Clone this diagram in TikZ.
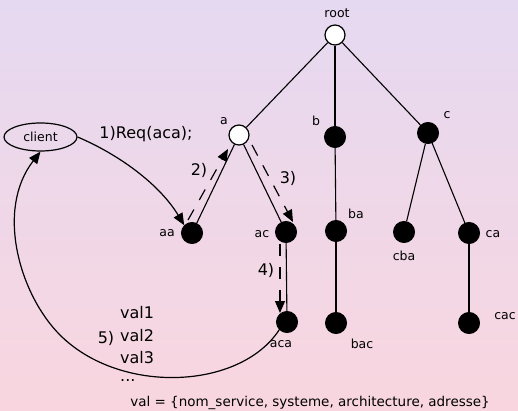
\documentclass[tikz,border=0pt]{standalone}
\usepackage{fontspec}
\setmainfont{DejaVu Sans}
\usetikzlibrary{arrows.meta,shapes.geometric,calc}
\definecolor{bgtop}{HTML}{E5D9F1}
\definecolor{bgbot}{HTML}{F9D6DF}
\tikzset{
  opennode/.style={circle,draw,line width=1.2pt,fill=white,inner sep=0pt,minimum size=20pt},
  fullnode/.style={circle,fill=black,draw,line width=1pt,inner sep=0pt,minimum size=21pt},
  lbl/.style={font=\fontsize{12.5}{14}\selectfont,inner sep=0pt},
  big/.style={font=\fontsize{16}{19}\selectfont,inner sep=0pt},
  edge/.style={line width=1.1pt},
  arr/.style={line width=1.2pt,-{Triangle[length=12pt,width=10pt]}},
  darr/.style={line width=1.2pt,dash pattern=on 12pt off 11pt,-{Triangle[length=12pt,width=10pt]}}
}
\begin{document}
\begin{tikzpicture}[x=1pt,y=-1pt]
\shade[top color=bgtop,bottom color=bgbot] (0,0) rectangle (518,411);
\useasboundingbox (0,0) rectangle (518,411);
% tree nodes
\node[opennode] (root) at (335,35) {};
\node[opennode] (a) at (239,135) {};
\node[fullnode] (b) at (335,137) {};
\node[fullnode] (c) at (428,133) {};
\node[fullnode] (aa) at (192,233) {};
\node[fullnode] (ac) at (286,232) {};
\node[fullnode] (ba) at (336,231) {};
\node[fullnode] (cba) at (404,232) {};
\node[fullnode] (ca) at (469,233) {};
\node[fullnode] (aca) at (287,322) {};
\node[fullnode] (bac) at (336,323) {};
\node[fullnode] (cac) at (469,323) {};
\node[ellipse,draw,line width=1.2pt,minimum width=73pt,minimum height=28pt,inner sep=0pt,lbl] (client) at (40.5,137) {client};
% labels
\node[lbl] (lroot) at (337,13) {root};
\node[lbl] (la) at (224,121) {a};
\node[lbl] (lb) at (316,121) {b};
\node[lbl] (lc) at (447,115) {c};
\node[lbl] (laa) at (167,233) {aa};
\node[lbl] (lac) at (262,234) {ac};
\node[lbl] (lba) at (356,214) {ba};
\node[lbl] (lcba) at (404,256) {cba};
\node[lbl] (lca) at (493,234) {ca};
\node[lbl] (laca) at (281,344) {aca};
\node[lbl] (lbac) at (362,344) {bac};
\node[lbl] (lcac) at (505,316) {cac};
% edges
\draw[edge] (root) -- (a);
\draw[edge] (root) -- (b);
\draw[edge] (root) -- (c);
\draw[edge] (a) -- (aa);
\draw[edge] (a) -- (ac);
\draw[edge] (b) -- (ba);
\draw[edge] (ba) -- (bac);
\draw[edge] (c) -- (cba);
\draw[edge] (c) -- (ca);
\draw[edge] (ca) -- (cac);
\draw[edge] (ac) -- (aca);
% messages
\draw[arr] (client.east) .. controls (120,155) and (160,185) .. (aa.north west);
\node[big] (m1) at (146,134) {1)Req(aca);};
\coordinate (s2) at (188,220);
\coordinate (e2) at (228,149);
\draw[darr] (s2) -- (e2);
\node[big] (m2) at (199,170) {2)};
\coordinate (s3) at (252,145);
\coordinate (e3) at (293,222);
\draw[darr] (s3) -- (e3);
\node[big] (m3) at (288,178) {3)};
\coordinate (s4) at (280,244);
\coordinate (e4) at (280,313);
\draw[darr] (s4) -- (e4);
\node[big] (m4) at (266,270) {4)};
\coordinate (k5) at (60,335);
\draw[arr] (aca.south west) .. controls (240,390) and (120,395) .. (k5) .. controls (20,295) and (-5,210) .. (client.south);
\node[big] (m5) at (106,338) {5)};
\node[big,anchor=west] (v1) at (120,313) {val1};
\node[big,anchor=west] (v2) at (120,336) {val2};
\node[big,anchor=west] (v3) at (120,358) {val3};
\node[big,anchor=west] (v4) at (120,381) {...};
\node[font=\fontsize{13.5}{16}\selectfont,inner sep=0pt] (vdef) at (310,403) {val = \{nom\_service, systeme, architecture, adresse\}};
\end{tikzpicture}
\end{document}
